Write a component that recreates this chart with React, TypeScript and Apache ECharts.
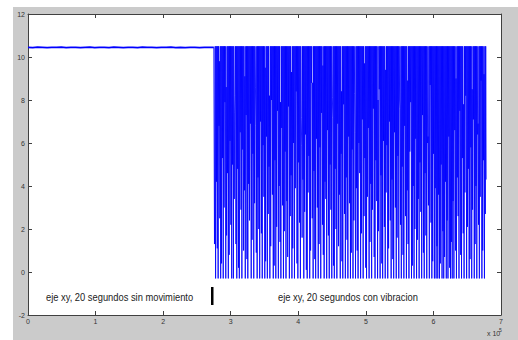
import React, { useEffect, useRef } from "react";
import * as echarts from "echarts";

// Flat segment (no movement): 0 .. 2.75e5
const flatStart = 0;
const flatEnd = 275000;
const flatValues = [
  10.45, 10.44, 10.46, 10.45, 10.44, 10.45, 10.45, 10.46, 10.44, 10.45,
  10.45, 10.44, 10.45, 10.46, 10.44, 10.45, 10.45, 10.44, 10.46, 10.45,
  10.44, 10.45, 10.45, 10.44, 10.46, 10.45, 10.45, 10.44, 10.45, 10.45,
  10.46, 10.44, 10.45, 10.44, 10.45, 10.45, 10.44, 10.45, 10.45, 10.45,
];

// transition drop at start of vibration
const dropX = 276000;
const dropValue = 1.3;

// Vibration segment: 2.77e5 .. 6.78e5 (alternating peaks / troughs)
const vibStart = 277000;
const vibEnd = 678000;
const peaks = [
  10.5,10.5,10.5,10.5,10.5,9.8,10.5,10.5,10.5,10.5,10.5,10.5,10.5,8.6,10.5,10.5,10.5,10.5,10.5,10.5,
  10.5,10.5,10.5,7.4,10.5,10.5,10.5,10.5,10.5,10.5,10.5,10.5,10.5,10.5,10.5,9.1,10.5,10.5,10.5,10.5,
  10.5,10.5,10.5,10.5,10.5,10.5,10.5,10.5,6.8,10.5,10.5,10.5,10.5,10.5,10.5,10.5,10.5,10.5,10.5,9.5,
  10.5,10.5,10.5,10.5,8.2,10.5,10.5,10.5,10.5,10.5,10.5,10.5,10.5,10.5,10.5,10.5,10.5,7.9,10.5,10.5,
  10.5,10.5,10.5,10.5,10.5,10.5,10.5,10.5,10.5,10.5,9.3,10.5,10.5,10.5,10.5,10.5,10.5,10.5,10.5,10.5,
  10.5,10.5,5.9,10.5,10.5,10.5,10.5,10.5,10.5,10.5,10.5,10.5,10.5,10.5,10.5,8.8,10.5,10.5,10.5,10.5,
  10.5,10.5,10.5,10.5,10.5,10.5,10.5,9.6,10.5,10.5,10.5,10.5,10.5,10.5,10.5,10.5,10.5,10.5,7.2,10.5,
  10.5,10.5,10.5,10.5,10.5,10.5,10.5,10.5,10.5,8.4,10.5,10.5,10.5,10.5,10.5,10.5,10.5,10.5,10.5,10.5,
  10.5,10.5,10.5,10.5,10.5,6.5,10.5,10.5,10.5,10.5,10.5,10.5,10.5,10.5,10.5,10.5,9.7,10.5,10.5,10.5,
  10.5,10.5,10.5,10.5,10.5,10.5,10.5,10.5,10.5,10.5,10.5,10.5,8.0,10.5,10.5,10.5,10.5,10.5,10.5,10.5,
  10.5,9.4,10.5,10.5,10.5,10.5,10.5,10.5,10.5,10.5,10.5,10.5,10.5,10.5,10.5,10.5,10.5,10.5,7.6,10.5,
  10.5,10.5,10.5,10.5,10.5,10.5,10.5,8.9,10.5,10.5,10.5,10.5,10.5,10.5,10.5,10.5,10.5,10.5,10.5,10.5,
  10.5,10.5,10.5,10.5,10.5,10.5,10.5,10.5,10.5,10.5,10.5,6.3,10.5,10.5,10.5,10.5,10.5,10.5,10.5,10.5,
  10.5,10.5,10.5,10.5,10.5,10.5,10.5,10.5,10.5,10.5,10.5,10.5,10.5,10.5,10.5,10.5,10.5,10.5,10.5,10.5,
  10.5,10.5,10.5,10.5,9.0,10.5,10.5,10.5,10.5,10.5,10.5,10.5,10.5,7.8,10.5,10.5,10.5,10.5,10.5,10.5,
  10.5,10.5,10.5,8.5,10.5,10.5,10.5,10.5,10.5,10.5,6.9,10.5,10.5,10.5,10.5,10.5,10.5,9.2,10.5,10.5,
];
const troughs = [
  -0.3,4.2,1.1,-0.3,6.8,2.5,-0.3,0.4,5.3,-0.3,3.0,7.9,-0.3,1.7,4.6,-0.3,0.8,6.1,2.2,-0.3,
  5.0,-0.3,3.4,8.2,1.3,-0.3,4.8,0.2,-0.3,6.5,2.9,-0.3,5.7,1.0,3.8,-0.3,7.3,0.6,-0.3,4.1,
  2.4,6.9,-0.3,1.5,5.5,-0.3,3.2,8.6,0.9,-0.3,4.4,2.0,-0.3,7.0,1.8,-0.3,5.9,3.5,-0.3,0.5,
  6.3,-0.3,2.7,4.9,-0.3,1.2,8.0,3.6,-0.3,0.3,5.2,-0.3,2.1,7.5,-0.3,4.0,1.4,-0.3,6.7,3.1,
  -0.3,1.9,5.6,-0.3,3.3,0.7,7.7,-0.3,2.6,4.5,-0.3,1.1,6.0,-0.3,3.9,8.4,0.4,-0.3,5.1,2.3,
  -0.3,7.2,1.6,4.3,-0.3,2.8,6.4,0.1,-0.3,3.7,5.4,-0.3,1.0,8.8,2.5,-0.3,4.7,0.6,-0.3,6.2,
  3.0,-0.3,1.3,5.8,-0.3,7.4,2.2,0.8,-0.3,4.2,3.4,-0.3,6.6,1.7,-0.3,5.0,2.9,-0.3,8.1,0.3,
  -0.3,4.8,2.0,-0.3,6.9,1.2,3.6,-0.3,5.5,0.5,-0.3,7.8,2.7,-0.3,4.4,1.5,-0.3,6.3,3.2,-0.3,
  0.9,5.7,-0.3,2.4,8.3,-0.3,3.9,1.0,-0.3,6.0,4.6,-0.3,1.8,7.1,-0.3,2.6,5.3,0.2,-0.3,3.5,
  6.7,-0.3,1.4,4.1,-0.3,2.9,7.6,0.7,-0.3,5.2,3.3,-0.3,1.9,8.5,-0.3,4.5,0.4,-0.3,6.1,2.1,
  -0.3,3.7,5.9,-0.3,1.1,7.0,2.4,-0.3,4.3,0.6,-0.3,6.5,3.0,-0.3,1.6,5.4,-0.3,8.0,2.2,-0.3,
  4.9,0.8,-0.3,6.8,2.6,-0.3,3.8,1.3,-0.3,5.6,7.9,-0.3,0.3,4.0,-0.3,2.0,6.2,-0.3,1.5,3.4,
  -0.3,5.1,2.8,-0.3,7.3,0.9,-0.3,4.6,1.7,-0.3,6.0,3.1,-0.3,8.7,2.3,-0.3,0.5,5.5,-0.3,3.9,
  -0.3,1.2,-0.3,3.6,-0.3,0.4,5.0,-0.3,1.9,-0.3,0.7,4.2,-0.3,2.4,-0.3,6.3,0.2,-0.3,1.4,-0.3,
  3.3,-0.3,6.6,1.0,-0.3,4.4,2.6,-0.3,7.5,0.8,-0.3,5.3,1.8,-0.3,3.7,8.2,-0.3,2.1,4.8,-0.3,
  0.6,5.8,-0.3,2.9,7.1,-0.3,1.3,4.0,-0.3,6.4,2.2,-0.3,3.5,8.9,-0.3,1.0,5.2,-0.3,2.7,4.3,
];

const xTicks = ["0", "1", "2", "3", "4", "5", "6", "7"];
const yTicks = ["-2", "0", "2", "4", "6", "8", "10", "12"];
const labelLeft = "eje xy, 20 segundos sin movimiento";
const labelRight = "eje xy, 20 segundos con vibracion";

export default function App() {
  const ref = useRef<HTMLDivElement>(null);
  useEffect(() => {
    if (!ref.current) return;
    const chart = echarts.init(ref.current, null, { renderer: "svg" });

    const flatData: number[][] = [];
    const nFlat = flatValues.length;
    flatValues.forEach((v, i) => {
      flatData.push([flatStart + ((flatEnd - flatStart) * i) / (nFlat - 1), v]);
    });
    const vibData: number[][] = [flatData[nFlat - 1], [dropX, dropValue]];
    const vib: number[] = [];
    for (let i = 0; i < peaks.length; i++) {
      vib.push(peaks[i]);
      vib.push(troughs[i]);
    }
    const nV = vib.length;
    vib.forEach((v, i) => {
      vibData.push([vibStart + ((vibEnd - vibStart) * i) / (nV - 1), v]);
    });

    const axisColor = "#404040";
    const labelColor = "#333";
    const font = "Liberation Sans";

    const xBase = {
      type: "value" as const,
      min: 0,
      max: 700000,
      interval: 100000,
      splitLine: { show: false },
      axisLine: { show: true, onZero: false, lineStyle: { color: axisColor, width: 1 } },
      axisTick: { show: true, inside: true, length: 4, lineStyle: { color: axisColor } },
    };
    const yBase = {
      type: "value" as const,
      min: -2,
      max: 12,
      interval: 2,
      splitLine: { show: false },
      axisLine: { show: true, onZero: false, lineStyle: { color: axisColor, width: 1 } },
      axisTick: { show: true, inside: true, length: 4, lineStyle: { color: axisColor } },
    };

    chart.setOption({
      animation: false,
      backgroundColor: "#ffffff",
      grid: { left: 28, top: 14, right: 17, bottom: 25, show: true, backgroundColor: "#ffffff", borderWidth: 0 },
      xAxis: [
        {
          ...xBase,
          position: "bottom",
          axisLabel: {
            show: true,
            fontSize: 7,
            color: labelColor,
            fontFamily: font,
            margin: 3,
            formatter: (v: number) => xTicks[Math.round(v / 100000)] ?? "",
          },
        },
        { ...xBase, position: "top", axisLabel: { show: false } },
      ],
      yAxis: [
        {
          ...yBase,
          position: "left",
          axisLabel: {
            show: true,
            fontSize: 7,
            color: labelColor,
            fontFamily: font,
            margin: 3,
            formatter: (v: number) => yTicks[Math.round((v + 2) / 2)] ?? "",
          },
        },
        { ...yBase, position: "right", axisLabel: { show: false } },
      ],
      graphic: [
        {
          type: "rect",
          z: -10,
          silent: true,
          shape: { x: 13, y: 7, width: 505, height: 333 },
          style: { fill: "#cbcbcb" },
        },
        {
          type: "text",
          x: 46,
          y: 291.5,
          scaleX: 0.85,
          z: 10,
          style: { text: labelLeft, fontSize: 11, fontFamily: font, fill: "#222" },
        },
        {
          type: "rect",
          z: 10,
          shape: { x: 211, y: 287, width: 2.5, height: 18 },
          style: { fill: "#000" },
        },
        {
          type: "text",
          x: 278,
          y: 291.5,
          scaleX: 0.85,
          z: 10,
          style: { text: labelRight, fontSize: 11, fontFamily: font, fill: "#222" },
        },
        {
          type: "text",
          x: 487,
          y: 330,
          z: 10,
          style: { text: "x 10", fontSize: 7, fontFamily: font, fill: labelColor },
        },
        {
          type: "text",
          x: 499,
          y: 327,
          z: 10,
          style: { text: "5", fontSize: 5, fontFamily: font, fill: labelColor },
        },
      ],
      series: [
        {
          type: "line",
          data: flatData,
          xAxisIndex: 0,
          yAxisIndex: 0,
          showSymbol: false,
          symbol: "none",
          silent: true,
          lineStyle: { color: "#0000ff", width: 1.8 },
          itemStyle: { color: "#0000ff" },
        },
        {
          type: "line",
          data: vibData,
          xAxisIndex: 0,
          yAxisIndex: 0,
          showSymbol: false,
          symbol: "none",
          silent: true,
          lineStyle: { color: "#0000ff", width: 0.85 },
          itemStyle: { color: "#0000ff" },
        },
      ],
    });
    return () => chart.dispose();
  }, []);

  return (
    <div
      ref={ref}
      style={{ position: "fixed", left: 0, top: 0, width: 518, height: 340, background: "#fff" }}
    />
  );
}
